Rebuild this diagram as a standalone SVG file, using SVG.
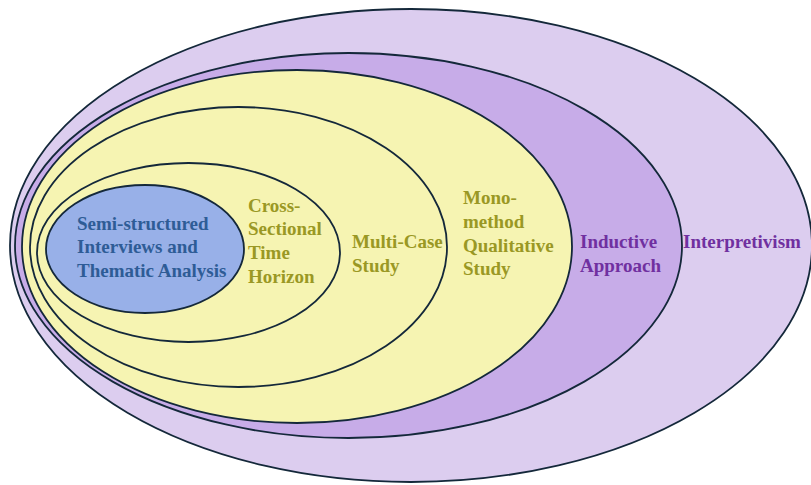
<svg xmlns="http://www.w3.org/2000/svg" width="811" height="485" viewBox="0 0 811 485">
<style>
.e{stroke:#14283a;stroke-width:1.8}
.t{font-family:"Liberation Serif","Times New Roman",serif;font-weight:bold;font-size:19px}
.blue{fill:#2e5c96}
.olive{fill:#9a9824}
.purple{fill:#7030a0}
</style>
<rect width="811" height="485" fill="#ffffff"/>
<g id="interpretivism">
<ellipse class="e" cx="411" cy="245.5" rx="401" ry="236.5" fill="#dccdef"/>
<text class="t purple" x="683" y="248">Interpretivism</text>
</g>
<g id="inductive">
<ellipse class="e" cx="348.5" cy="245.5" rx="333.5" ry="192.5" fill="#c7ace8"/>
<text class="t purple" x="580" y="248">Inductive</text>
<text class="t purple" x="580" y="272">Approach</text>
</g>
<g id="mono-method">
<ellipse class="e" cx="297" cy="246.5" rx="275" ry="176.5" fill="#f6f4b2"/>
<text class="t olive" x="463" y="204">Mono-</text>
<text class="t olive" x="463" y="228">method</text>
<text class="t olive" x="463" y="252">Qualitative</text>
<text class="t olive" x="463" y="275">Study</text>
</g>
<g id="multi-case">
<ellipse class="e" cx="238.5" cy="247" rx="208.5" ry="140" fill="#f6f4b2"/>
<text class="t olive" x="352" y="248">Multi-Case</text>
<text class="t olive" x="352" y="272">Study</text>
</g>
<g id="cross-sectional">
<ellipse class="e" cx="188.5" cy="252.5" rx="151.5" ry="89.5" fill="#f6f4b2"/>
<text class="t olive" x="248" y="212">Cross-</text>
<text class="t olive" x="248" y="235">Sectional</text>
<text class="t olive" x="248" y="259">Time</text>
<text class="t olive" x="248" y="283">Horizon</text>
</g>
<g id="semi-structured">
<ellipse class="e" cx="145" cy="249" rx="99" ry="64" fill="#98b0e8"/>
<text class="t blue" x="77" y="230">Semi-structured</text>
<text class="t blue" x="77" y="253">Interviews and</text>
<text class="t blue" x="77" y="277">Thematic Analysis</text>
</g>
<g id="connectors"/>
</svg>
